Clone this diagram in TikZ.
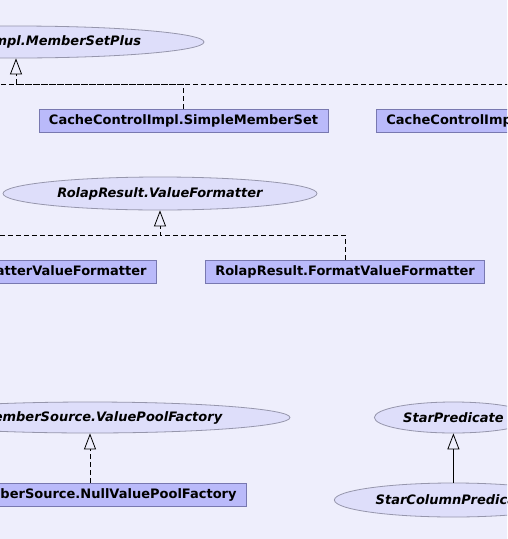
\documentclass[tikz,border=0pt]{standalone}
\usepackage{fontspec}
\setmainfont{DejaVu Sans}
\usetikzlibrary{arrows.meta,shapes.geometric}

\definecolor{bgcol}{RGB}{238,238,252}
\definecolor{clsfill}{RGB}{186,186,250}
\definecolor{clsdraw}{RGB}{120,120,176}
\definecolor{ifcfill}{RGB}{222,222,250}
\definecolor{ifcdraw}{RGB}{150,150,172}

\tikzset{
  cls/.style={draw=clsdraw, fill=clsfill, rectangle, minimum height=23pt, inner xsep=10pt, inner ysep=0pt, font=\fontsize{13}{15}\selectfont\bfseries},
  ifc/.style={draw=ifcdraw, fill=ifcfill, ellipse, inner sep=0pt, font=\fontsize{13}{15}\selectfont\bfseries\itshape},
  realize/.style={draw, dash pattern=on 5pt off 3pt, -{Triangle[open, length=16pt, width=12pt]}},
  extend/.style={draw, -{Triangle[open, length=16pt, width=12pt]}}
}

\begin{document}
\begin{tikzpicture}[x=1pt, y=-1pt, line width=0.8pt]
            \useasboundingbox (0,0) rectangle (507,539);
            \fill[bgcol] (0,0) rectangle (507,539); %pozadie
            \clip (0,0) rectangle (507,539);

            %MemberSetPlus
            \node[ifc, minimum width=376pt, minimum height=32pt] (msp) at (16,42) {CacheControlImpl.MemberSetPlus};
            \node[cls, minimum width=287pt] (simple) at (183.5,120.5) {CacheControlImpl.SimpleMemberSet};
            \node[cls, anchor=west] (union) at (376,120.5) {CacheControlImpl.UnionMemberSet};
            \coordinate (busA) at (16,84);
            \coordinate (leftA) at (-80,84);
            \draw[realize] (simple.north) |- (busA) -- (msp.south);
            \draw[dash pattern=on 5pt off 3pt] (union.north) |- (busA) -- (leftA);

            %ValueFormatter
            \node[ifc, minimum width=314pt, minimum height=33pt] (vf) at (160,193.5) {RolapResult.ValueFormatter};
            \node[cls, anchor=east] (cellvf) at (157,271.5) {RolapResult.CellFormatterValueFormatter};
            \node[cls, minimum width=276pt] (fmtvf) at (345,271.5) {RolapResult.FormatValueFormatter};
            \coordinate (busB) at (160,235);
            \draw[realize] (fmtvf.north) |- (busB) -- (vf.south);
            \draw[dash pattern=on 5pt off 3pt] (cellvf.north) |- (busB);

            %ValuePoolFactory
            \node[ifc, minimum width=400pt, minimum height=31pt] (vpf) at (90,417.5) {SqlMemberSource.ValuePoolFactory};
            \node[cls, anchor=east] (nullvpf) at (247,495) {SqlMemberSource.NullValuePoolFactory};
            \draw[realize] (nullvpf.north -| vpf.south) -- (vpf.south);

            %StarPredicate
            \node[ifc, minimum width=158pt, minimum height=31pt, anchor=west] (sp) at (374,417.5) {StarPredicate};
            \node[ifc, minimum width=238pt, minimum height=34pt] (scp) at (sp.center |- 0,500) {StarColumnPredicate};
            \draw[extend] (scp.north) -- (sp.south);
        \end{tikzpicture}
\end{document}
